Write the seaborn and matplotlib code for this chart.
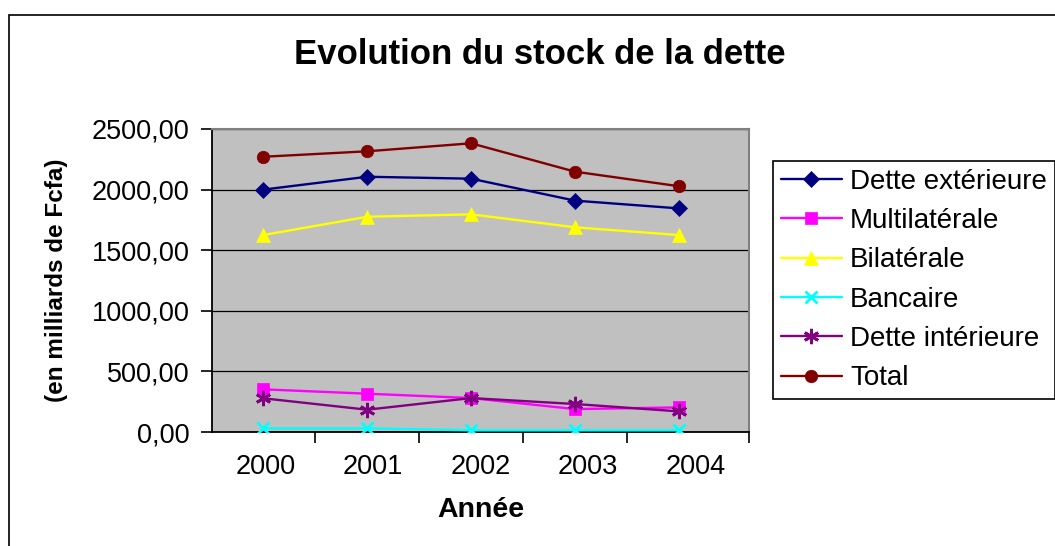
import matplotlib
matplotlib.use("Agg")
import matplotlib.pyplot as plt
from matplotlib.patches import Rectangle
from matplotlib.ticker import FuncFormatter, FixedLocator
import seaborn as sns
import pandas as pd
import numpy as np

years = ["2000", "2001", "2002", "2003", "2004"]
dette_exterieure = [2000, 2106, 2090, 1909, 1845]
multilaterale = [352, 316, 280, 189, 203]
bilaterale = [1625, 1776, 1796, 1689, 1625]
bancaire = [30, 30, 14, 14, 14]
dette_interieure = [278, 184, 280, 231, 170]
total = [2271, 2316, 2382, 2148, 2028]

series_names = ["Dette extérieure", "Multilatérale", "Bilatérale", "Bancaire",
                "Dette intérieure", "Total"]
series_values = [dette_exterieure, multilaterale, bilaterale, bancaire,
                 dette_interieure, total]
colors = ["#000080", "#FF00FF", "#FFFF00", "#00FFFF", "#800080", "#800000"]
markers = ["D", "s", "^", "x", (6, 2, 0), "o"]
msizes = [8, 8.5, 10, 9, 11, 9]

sns.set_style("white")
plt.rcParams["font.family"] = ["Liberation Sans", "DejaVu Sans"]
plt.rcParams["text.color"] = "black"
plt.rcParams["axes.labelcolor"] = "black"
plt.rcParams["xtick.color"] = "black"
plt.rcParams["ytick.color"] = "black"

fig = plt.figure(figsize=(10.55, 5.46), dpi=100)
W, H = 1055, 546
ax = fig.add_axes([212 / W, 1 - 432 / H, (749 - 212) / W, (432 - 129) / H])
ax.set_facecolor("#C0C0C0")

rows = []
for name, vals in zip(series_names, series_values):
    for i, v in enumerate(vals):
        rows.append({"serie": name, "idx": i, "val": v})
df = pd.DataFrame(rows)

for name, col, mk, ms in zip(series_names, colors, markers, msizes):
    sub = df[df["serie"] == name]
    filled = mk not in ("x", (6, 2, 0))
    sns.lineplot(data=sub, x="idx", y="val", ax=ax, color=col, lw=1.7,
                 marker=mk, markersize=ms,
                 markerfacecolor=col, markeredgecolor=col,
                 markeredgewidth=(2.0 if not filled else 0.5),
                 label=name, zorder=3)

ax.set_ylim(0, 2500)
ax.set_yticks([0, 500, 1000, 1500, 2000, 2500])
ax.yaxis.set_major_formatter(FuncFormatter(lambda v, p: f"{v:.2f}".replace(".", ",")))
x0, x1 = -0.494, 4.675
ax.set_xlim(x0, x1)
ax.xaxis.set_major_locator(FixedLocator([-0.5, 0.5, 1.5, 2.5, 3.5, x1]))
ax.xaxis.set_major_formatter(FuncFormatter(lambda v, p: ""))
# category labels centred in equal slots across the plot width (as in the original)
n = len(years)
label_pos = [x0 + (i + 0.5) * (x1 - x0) / n for i in range(n)]
ax.set_xticks(label_pos, years, minor=True)

ax.tick_params(axis="x", which="major", direction="out", length=8, width=1.2,
               color="black", bottom=True)
ax.tick_params(axis="x", which="minor", length=0, pad=16, labelsize=19.5,
               labelcolor="black")
ax.tick_params(axis="y", direction="out", length=8, width=1.2, color="black",
               left=True, pad=8, labelsize=19.5, labelcolor="black")

ax.grid(axis="y", color="black", lw=0.9)
ax.grid(axis="x", visible=False)
ax.set_axisbelow(True)

for s in ["left", "bottom"]:
    ax.spines[s].set_color("black")
    ax.spines[s].set_linewidth(1.3)
for s in ["top", "right"]:
    ax.spines[s].set_color("#808080")
    ax.spines[s].set_linewidth(1.5)

ax.set_xlabel("Année", fontsize=20.5, fontweight="bold", color="black")
ax.xaxis.set_label_coords(0.5, -0.215)
ax.set_ylabel("(en milliards de Fcfa)", fontsize=17.5, fontweight="bold",
              color="black")
ax.yaxis.set_label_coords(-0.268, 0.5)

fig.text(540 / W, 1 - 63.5 / H, "Evolution du stock de la dette",
         fontsize=25, fontweight="bold", ha="center", va="baseline",
         color="black")

handles, labels = ax.get_legend_handles_labels()
leg = ax.legend(handles, labels, loc="upper left",
                bbox_to_anchor=(773 / W, 1 - 161 / H),
                bbox_transform=fig.transFigure, fontsize=20,
                frameon=True, fancybox=False, shadow=False,
                edgecolor="black", framealpha=1, borderpad=0.28,
                labelspacing=0.48, handlelength=2.2, handletextpad=0.3,
                borderaxespad=0)
leg.get_frame().set_linewidth(1.2)
for t in leg.get_texts():
    t.set_color("black")

fig.add_artist(Rectangle((9 / W, -0.1), 1.2, (1 - 15 / H) + 0.1,
                         transform=fig.transFigure, fill=False,
                         ec="black", lw=1.2))

fig.savefig("out.png", dpi=100)
